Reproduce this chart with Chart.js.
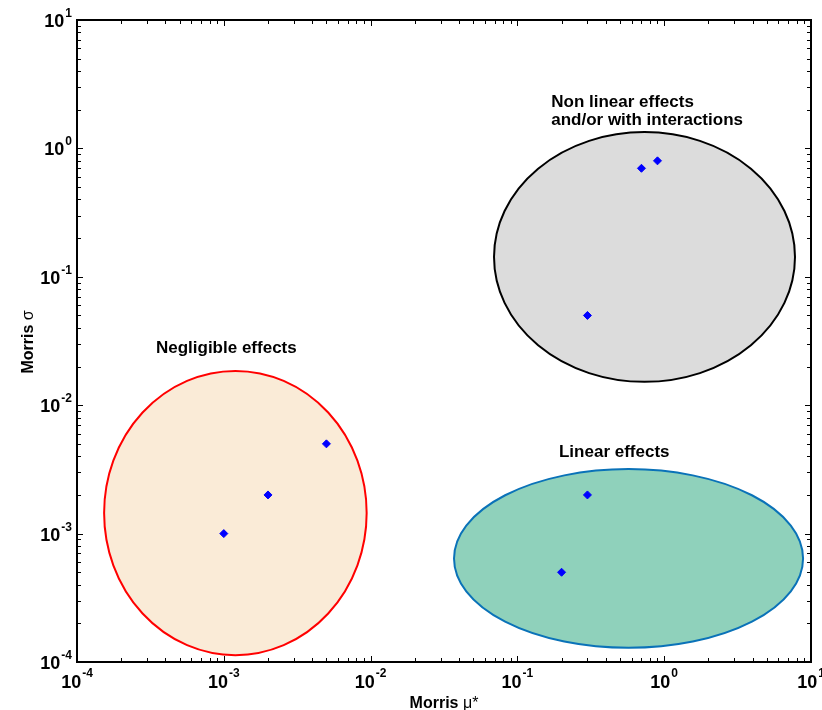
<!DOCTYPE html>
<html>
<head>
<meta charset="utf-8">
<script src="https://cdn.jsdelivr.net/npm/chart.js@4.4.0/dist/chart.umd.min.js"></script>
<style>
  html, body { margin: 0; padding: 0; background: #fff; }
  #wrap { width: 822px; height: 710px; position: relative; }
</style>
</head>
<body>
<div id="wrap"><canvas id="morris-chart"></canvas></div>
<script>
// Morris screening results
var muStar = [0.001, 0.002, 0.005, 0.7, 0.9, 0.3, 0.3, 0.2];
var sigma  = [0.001, 0.002, 0.005, 0.7, 0.8, 0.05, 0.002, 0.0005];

var tickExponents = [-4, -3, -2, -1, 0, 1];

// effect regions, bounding box in data units
var regionNames   = ['Negligible effects', 'Non linear effects|and/or with interactions', 'Linear effects'];
var regionXRange  = [[1.53e-4, 9.4e-3], [0.0693, 7.78], [0.037, 8.83]];
var regionYRange  = [[1.13e-4, 0.0185], [0.0152, 1.34], [1.29e-4, 3.18e-3]];
var regionFill    = ['#faebd7', '#dcdcdc', '#8fd1bb'];
var regionStroke  = ['#ff0000', '#000000', '#0a72b8'];
// caption anchors (left edge, first baseline) in data units
var captionX      = [3.45e-4, 0.17, 0.192];
var captionY      = [0.0255, 2.1, 3.95e-3];

var FONT = 'Arial, "Liberation Sans", sans-serif';

const regionsPlugin = {
    id: 'regions',
    beforeDatasetsDraw(chart) {
        const ctx = chart.ctx, x = chart.scales.x, y = chart.scales.y;
        for (let i = 0; i < regionNames.length; i++) {
            const x0 = x.getPixelForValue(regionXRange[i][0]);
            const x1 = x.getPixelForValue(regionXRange[i][1]);
            const y0 = y.getPixelForValue(regionYRange[i][1]);
            const y1 = y.getPixelForValue(regionYRange[i][0]);
            ctx.save();
            ctx.beginPath();
            ctx.ellipse((x0 + x1) / 2, (y0 + y1) / 2, (x1 - x0) / 2, (y1 - y0) / 2, 0, 0, Math.PI * 2);
            ctx.fillStyle = regionFill[i];
            ctx.fill();
            ctx.lineWidth = 2;
            ctx.strokeStyle = regionStroke[i];
            ctx.stroke();

            // region caption
            const lines = regionNames[i].split('|');
            ctx.fillStyle = '#000';
            ctx.font = 'bold 17px ' + FONT;
            ctx.textAlign = 'left';
            ctx.textBaseline = 'alphabetic';
            const tx = x.getPixelForValue(captionX[i]);
            let ty = y.getPixelForValue(captionY[i]);
            lines.forEach(function (l) { ctx.fillText(l, tx, ty); ty += 18; });
            ctx.restore();
        }
    },
    afterDraw(chart) {
        const ctx = chart.ctx, a = chart.chartArea, x = chart.scales.x, y = chart.scales.y;
        ctx.save();
        ctx.strokeStyle = '#000';
        ctx.lineWidth = 2;
        ctx.strokeRect(a.left, a.top, a.right - a.left, a.bottom - a.top);

        // inward ticks on all four sides
        ctx.lineWidth = 1;
        ctx.beginPath();
        for (let e = -4; e <= 0; e++) {
            for (let m = 1; m <= 9; m++) {
                const v = m * Math.pow(10, e);
                const len = m === 1 ? 6 : 4;
                const px = Math.round(x.getPixelForValue(v)) + 0.5;
                const py = Math.round(y.getPixelForValue(v)) + 0.5;
                ctx.moveTo(px, a.bottom); ctx.lineTo(px, a.bottom - len);
                ctx.moveTo(px, a.top); ctx.lineTo(px, a.top + len);
                ctx.moveTo(a.left, py); ctx.lineTo(a.left + len, py);
                ctx.moveTo(a.right, py); ctx.lineTo(a.right - len, py);
            }
        }
        ctx.stroke();

        // tick labels 10^n
        ctx.fillStyle = '#000';
        ctx.textBaseline = 'alphabetic';
        tickExponents.forEach(function (e) {
            const v = Math.pow(10, e);
            const exp = String(e);
            ctx.font = 'bold 18px ' + FONT;
            const wBase = ctx.measureText('10').width;
            ctx.font = 'bold 12px ' + FONT;
            const wExp = ctx.measureText(exp).width;

            // x axis
            const px = x.getPixelForValue(v);
            let sx = px - (wBase + wExp + 1) / 2;
            ctx.textAlign = 'left';
            ctx.font = 'bold 18px ' + FONT;
            ctx.fillText('10', sx, a.bottom + 26);
            ctx.font = 'bold 12px ' + FONT;
            ctx.fillText(exp, sx + wBase + 1, a.bottom + 15);

            // y axis
            const py = y.getPixelForValue(v);
            const ex = a.left - 5;
            ctx.textAlign = 'right';
            ctx.fillText(exp, ex, py - 3);
            ctx.font = 'bold 18px ' + FONT;
            ctx.fillText('10', ex - wExp - 1, py + 7);
        });

        // axis titles
        ctx.textAlign = 'left';
        ctx.font = 'bold 16px ' + FONT;
        const t1 = 'Morris ';
        const w1 = ctx.measureText(t1).width;
        ctx.font = '16px ' + FONT;
        const w2 = ctx.measureText('\u03bc*').width;
        let tx = (a.left + a.right) / 2 - (w1 + w2) / 2;
        ctx.font = 'bold 16px ' + FONT;
        ctx.fillText(t1, tx, a.bottom + 46);
        ctx.font = '16px ' + FONT;
        ctx.fillText('\u03bc*', tx + w1, a.bottom + 46);

        ctx.translate(33, 342);
        ctx.rotate(-Math.PI / 2);
        ctx.font = 'bold 16px ' + FONT;
        const w3 = ctx.measureText(t1).width;
        ctx.font = '16px ' + FONT;
        const w4 = ctx.measureText('\u03c3').width;
        tx = -(w3 + w4) / 2;
        ctx.font = 'bold 16px ' + FONT;
        ctx.fillText(t1, tx, 0);
        ctx.font = '16px ' + FONT;
        ctx.fillText('\u03c3', tx + w3, 0);
        ctx.restore();
    }
};

const points = muStar.map(function (m, i) { return { x: m, y: sigma[i] }; });

new Chart(document.getElementById('morris-chart'), {
    type: 'scatter',
    data: {
        datasets: [{
            label: 'Morris',
            data: points,
            pointStyle: 'rectRot',
            pointRadius: 4,
            backgroundColor: '#0000ff',
            borderColor: '#0000ff',
            borderWidth: 1,
        }]
    },
    options: {
        responsive: true,
        maintainAspectRatio: false,
        animation: false,
        layout: { padding: { left: 77, right: 11, top: 20, bottom: 48 } },
        scales: {
            x: { type: 'logarithmic', min: 1e-4, max: 10, display: false },
            y: { type: 'logarithmic', min: 1e-4, max: 10, display: false }
        },
        plugins: {
            legend: { display: false },
            tooltip: { enabled: false }
        }
    },
    plugins: [regionsPlugin]
});
</script>
</body>
</html>
